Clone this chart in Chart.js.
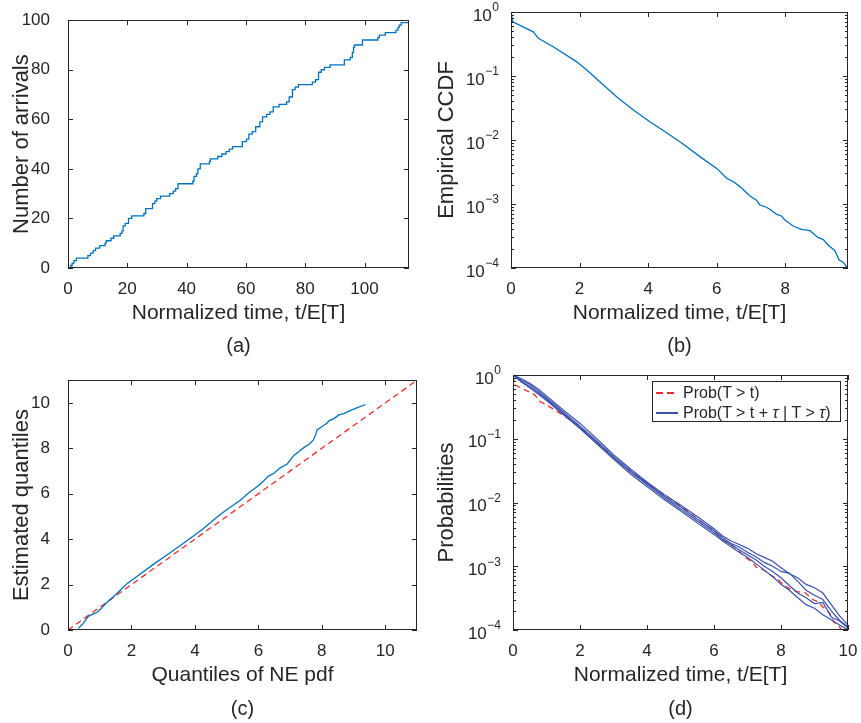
<!DOCTYPE html>
<html>
<head>
<meta charset="utf-8">
<script src="https://cdn.jsdelivr.net/npm/chart.js@4.4.1/dist/chart.umd.min.js"></script>
<style>
  body{margin:0;background:#fff;}
  #fig{position:relative;width:861px;height:723px;font-family:'Liberation Sans',Arial,sans-serif;color:#262626;}
  .pane{position:absolute;}
  .cap{position:absolute;font-size:20px;transform:translate(-50%,-50%);white-space:nowrap;}
  .legend{position:absolute;left:652px;top:381px;width:187px;height:39px;border:1px solid #262626;background:#fff;font-size:16px;}
  .legend .row{position:absolute;left:0;height:20px;line-height:20px;white-space:nowrap;}
  .legend .swatch{position:absolute;left:3px;top:9px;width:22px;height:2px;}
  .legend .lbl{position:absolute;left:30px;top:0;}
</style>
</head>
<body>
<div id="fig">
  <div class="pane" style="left:0;top:0;width:430px;height:360px"><canvas id="chart-a"></canvas></div>
  <div class="pane" style="left:430px;top:0;width:431px;height:360px"><canvas id="chart-b"></canvas></div>
  <div class="pane" style="left:0;top:360px;width:430px;height:363px"><canvas id="chart-c"></canvas></div>
  <div class="pane" style="left:430px;top:360px;width:431px;height:363px"><canvas id="chart-d"></canvas></div>
  <div class="cap" style="left:238.5px;top:345px">(a)</div>
  <div class="cap" style="left:679.5px;top:345px">(b)</div>
  <div class="cap" style="left:242.5px;top:708px">(c)</div>
  <div class="cap" style="left:680.5px;top:708px">(d)</div>
  <div class="legend">
    <div class="row" style="top:1px">
      <span class="swatch" style="background:repeating-linear-gradient(to right,#ee2b2b 0 7px,transparent 7px 11px)"></span>
      <span class="lbl">Prob(T &gt; t)</span>
    </div>
    <div class="row" style="top:21px">
      <span class="swatch" style="background:#3a52ad"></span>
      <span class="lbl">Prob(T &gt; t + <i>τ</i> | T &gt; <i>τ</i>)</span>
    </div>
  </div>
</div>
<script>
// (a) arrival process: time of each jump and the count reached
const arrivalT = [0, 0.9, 1.4, 2.0, 2.8, 6.7, 7.6, 8.5, 9.3, 10.7, 12.5, 12.9, 14.5, 15.4, 17.6, 18.2, 18.6, 19.3, 20.4, 21.5,
  25.6, 26.2, 28.5, 29.3, 29.9, 31.2, 34.3, 35.5, 36.3, 37.1, 42.1, 42.5, 43.3, 43.8, 44.6, 47.7, 48.0, 50.5, 51.9, 53.3,
  54.4, 55.5, 58.8, 60.2, 61.0, 62.1, 63.3, 64.7, 65.6, 67.0, 68.1, 69.2, 71.2, 73.7, 74.6, 75.7, 76.6, 77.7, 82.4, 83.5,
  84.5, 85.4, 86.5, 88.4, 93.2, 95.2, 95.9, 96.3, 96.6, 99.3, 104.5, 105.0, 107.0, 110.6, 111.3, 111.7, 112.4, 115];
const arrivalN = [0, 1, 2, 3, 4, 5, 6, 7, 8, 9, 10, 11, 12, 13, 14, 15, 17, 18, 20, 21,
  22, 24, 26, 27, 28, 29, 30, 31, 32, 34, 35, 37, 38, 40, 42, 43, 44, 45, 46, 47,
  48, 49, 51, 52, 54, 55, 57, 59, 61, 62, 63, 65, 66, 67, 69, 72, 73, 74, 75, 76,
  79, 80, 81, 82, 84, 85, 87, 89, 90, 92, 93, 94, 95, 96, 97, 98, 99, 99];

// (b) empirical CCDF (also the red dashed curve of (d))
const ccdfT = [0, 0.05, 0.65, 0.8, 1.23, 1.91, 2.21, 2.59, 3.08, 3.57, 4.05, 4.54, 5.02, 5.51, 6.0, 6.29, 6.48, 6.68,
  6.97, 7.16, 7.26, 7.45, 7.55, 7.75, 7.89, 7.99, 8.23, 8.47, 8.72, 8.96, 9.1, 9.25, 9.45, 9.57, 9.69, 9.81];
const ccdfP = [1.0, 0.70, 0.49, 0.388, 0.287, 0.168, 0.124, 0.0815, 0.0475, 0.0294, 0.0193, 0.0130, 0.00866, 0.0055,
  0.0036, 0.00252, 0.00224, 0.00187, 0.00133, 0.00115, 0.000965, 0.00089, 0.000826, 0.00069, 0.00065, 0.00056,
  0.000453, 0.0004, 0.000383, 0.000298, 0.00028, 0.000229, 0.000186, 0.000133, 0.000123, 0.0001];

// (c) QQ plot
const qqNE = [0.33, 0.48, 0.64, 0.8, 0.93, 1.06, 1.22, 1.43, 1.64, 1.85, 2.17, 2.69, 3.22, 3.75, 4.27, 4.69, 5.01, 5.43,
  5.69, 6.01, 6.17, 6.33, 6.48, 6.69, 6.91, 7.12, 7.28, 7.43, 7.59, 7.73, 7.8, 7.85, 8.01, 8.17, 8.22, 8.38, 8.54,
  8.69, 8.91, 9.12, 9.38];
const qqEst = [0.07, 0.29, 0.6, 0.71, 0.79, 0.97, 1.21, 1.46, 1.74, 2.03, 2.36, 2.89, 3.4, 3.93, 4.47, 4.97, 5.31, 5.71,
  6.03, 6.36, 6.57, 6.79, 6.89, 7.14, 7.31, 7.69, 7.86, 8.03, 8.17, 8.36, 8.57, 8.81, 8.96, 9.11, 9.21, 9.31, 9.47,
  9.53, 9.67, 9.79, 9.93];
const qqRef = [0, 11];

// (d) conditional CCDFs for four values of tau
const condT = [0, 0.25, 0.5, 0.75, 1, 1.5, 2, 2.5, 3, 3.5, 4, 4.5, 5, 5.5, 6, 6.25, 6.5, 6.75, 7, 7.25, 7.5, 7.75,
  8, 8.25, 8.5, 8.75, 9, 9.25, 9.5, 9.75, 10];
const condP1 = [1, 0.871, 0.741, 0.603, 0.468, 0.282, 0.174, 0.1, 0.0562, 0.0339, 0.0209, 0.0135, 0.00912, 0.00603,
  0.00389, 0.00302, 0.00251, 0.00219, 0.00191, 0.00158, 0.00138, 0.0012, 0.00095, 0.00076, 0.00066, 0.00052,
  0.00046, 0.00038, 0.00025, 0.000166, 0.00012];
const condP2 = [1, 0.832, 0.708, 0.562, 0.437, 0.263, 0.158, 0.0912, 0.0525, 0.0316, 0.02, 0.0126, 0.00851, 0.0055,
  0.00363, 0.00282, 0.00229, 0.002, 0.00166, 0.00141, 0.00115, 0.001, 0.00083, 0.00078, 0.00058, 0.00042,
  0.00035, 0.0003, 0.0002, 0.000141, 0.000112];
const condP3 = [1, 0.794, 0.661, 0.525, 0.417, 0.251, 0.151, 0.0871, 0.0501, 0.0302, 0.0191, 0.012, 0.00794, 0.00513,
  0.00339, 0.00263, 0.00219, 0.00182, 0.00151, 0.00126, 0.001, 0.00083, 0.00066, 0.0005, 0.00038, 0.00032,
  0.00026, 0.00027, 0.00016, 0.000138, 0.000107];
const condP4 = [1, 0.776, 0.631, 0.501, 0.398, 0.24, 0.145, 0.0832, 0.0479, 0.0282, 0.0178, 0.0112, 0.00741, 0.00479,
  0.00316, 0.00251, 0.00204, 0.00166, 0.00138, 0.0011, 0.00087, 0.00069, 0.00052, 0.00042, 0.00032, 0.00025,
  0.00022, 0.000174, 0.000145, 0.00012, 0.0001];

const axisColor = '#262626';
const lineBlue = '#0072BD';
const darkBlue = '#3a52ad';
const dashRed = '#ee2b2b';
const fontFamily = "'Liberation Sans', Arial, Helvetica, sans-serif";
Chart.defaults.font.family = fontFamily;
Chart.defaults.color = axisColor;

const logTicks = [];
for (let e = -4; e <= 0; e++) for (let m = 1; m <= 9; m++) { if (e === 0 && m > 1) break; logTicks.push(m * Math.pow(10, e)); }
const isDecade = v => Math.abs(Math.log10(v) - Math.round(Math.log10(v))) < 1e-6;
const pts = (xs, ys) => xs.map((x, i) => ({x, y: ys[i]}));

// MATLAB-like box with inward ticks, plus 10^n labels on log axes
const matlabAxes = {
  id: 'matlabAxes',
  afterDraw(chart) {
    const {ctx, chartArea: a, scales: {x, y}} = chart;
    ctx.save();
    ctx.strokeStyle = axisColor; ctx.lineWidth = 1;
    ctx.beginPath();
    for (const t of x.ticks) {
      const px = Math.round(x.getPixelForValue(t.value)) + .5;
      ctx.moveTo(px, a.bottom); ctx.lineTo(px, a.bottom - 5);
      ctx.moveTo(px, a.top); ctx.lineTo(px, a.top + 5);
    }
    const isLog = y.type === 'logarithmic';
    for (const t of y.ticks) {
      const py = Math.round(y.getPixelForValue(t.value)) + .5;
      const len = isLog && !isDecade(t.value) ? 3 : 5;
      ctx.moveTo(a.left, py); ctx.lineTo(a.left + len, py);
      ctx.moveTo(a.right, py); ctx.lineTo(a.right - len, py);
    }
    ctx.stroke();
    ctx.strokeRect(Math.round(a.left) + .5, Math.round(a.top) + .5, Math.round(a.width) - 1, Math.round(a.height) - 1);
    if (isLog) {
      ctx.fillStyle = axisColor; ctx.textBaseline = 'middle';
      for (const t of y.ticks) {
        if (!isDecade(t.value)) continue;
        const e = Math.round(Math.log10(t.value));
        const sup = e === 0 ? '0' : '\u2212' + (-e);
        const py = y.getPixelForValue(t.value);
        const right = a.left - 12;
        ctx.font = `12px ${fontFamily}`;
        const sw = ctx.measureText(sup).width;
        ctx.textAlign = 'left'; ctx.fillText(sup, right - sw, py - 4);
        ctx.font = `17px ${fontFamily}`;
        ctx.textAlign = 'right'; ctx.fillText('10', right - sw - 0.5, py + 4);
      }
    }
    ctx.restore();
  }
};

function axisX(min, max, step, title) {
  return {type: 'linear', min, max, grid: {display: false}, border: {display: false},
    ticks: {stepSize: step, includeBounds: false, padding: 3, maxRotation: 0, autoSkip: false, font: {size: 17}},
    title: {display: true, text: title, font: {size: 21}, padding: {top: 0, bottom: 0}},
    afterFit(s) { s.height = 58; }};
}
function axisY(min, max, step, title, width, pad) {
  return {type: 'linear', min, max, grid: {display: false}, border: {display: false},
    ticks: {stepSize: step, includeBounds: false, padding: 10, autoSkip: false, font: {size: 17}},
    title: {display: true, text: title, font: {size: 22}, padding: {top: pad, bottom: 0}},
    afterFit(s) { s.width = width; }};
}
function axisLogY(title, width, pad) {
  return {type: 'logarithmic', min: 1e-4, max: 1, grid: {display: false}, border: {display: false},
    ticks: {display: false},
    afterBuildTicks(s) { s.ticks = logTicks.map(v => ({value: v})); },
    title: {display: true, text: title, font: {size: 22}, padding: {top: pad, bottom: 0}},
    afterFit(s) { s.width = width; }};
}
function makeChart(id, datasets, scales, padding) {
  return new Chart(document.getElementById(id).getContext('2d'), {
    type: 'line',
    data: {datasets},
    options: {
      responsive: true, maintainAspectRatio: false, animation: false, events: [],
      layout: {padding},
      plugins: {legend: {display: false}, tooltip: {enabled: false}},
      elements: {point: {radius: 0}, line: {tension: 0}},
      scales
    },
    plugins: [matlabAxes]
  });
}

makeChart('chart-a',
  [{data: pts(arrivalT, arrivalN), borderColor: lineBlue, borderWidth: 1.3, stepped: 'before'}],
  {x: axisX(0, 115, 20, 'Normalized time, t/E[T]'), y: axisY(0, 100, 20, 'Number of arrivals', 68, 9)},
  {left: 0, right: 21, top: 12, bottom: 34});

makeChart('chart-b',
  [{data: pts(ccdfT, ccdfP), borderColor: lineBlue, borderWidth: 1.3}],
  {x: axisX(0, 9.83, 2, 'Normalized time, t/E[T]'), y: axisLogY('Empirical CCDF', 81, 4)},
  {left: 0, right: 13, top: 12, bottom: 34});

makeChart('chart-c',
  [{data: pts(qqNE, qqEst), borderColor: lineBlue, borderWidth: 1.3},
   {data: pts(qqRef, qqRef), borderColor: dashRed, borderWidth: 1.3, borderDash: [6, 4]}],
  {x: axisX(0, 11, 2, 'Quantiles of NE pdf'), y: axisY(0, 11, 2, 'Estimated quantiles', 68, 9)},
  {left: 0, right: 13, top: 15, bottom: 35});

makeChart('chart-d',
  [{data: pts(condT, condP1), borderColor: darkBlue, borderWidth: 1.2},
   {data: pts(condT, condP2), borderColor: darkBlue, borderWidth: 1.2},
   {data: pts(condT, condP3), borderColor: darkBlue, borderWidth: 1.2},
   {data: pts(condT, condP4), borderColor: darkBlue, borderWidth: 1.2},
   {data: pts(ccdfT, ccdfP), borderColor: dashRed, borderWidth: 1.3, borderDash: [6, 4]}],
  {x: axisX(0, 10, 2, 'Normalized time, t/E[T]'), y: axisLogY('Probabilities', 83, 4)},
  {left: 0, right: 13, top: 15, bottom: 35});
</script>
</body>
</html>
